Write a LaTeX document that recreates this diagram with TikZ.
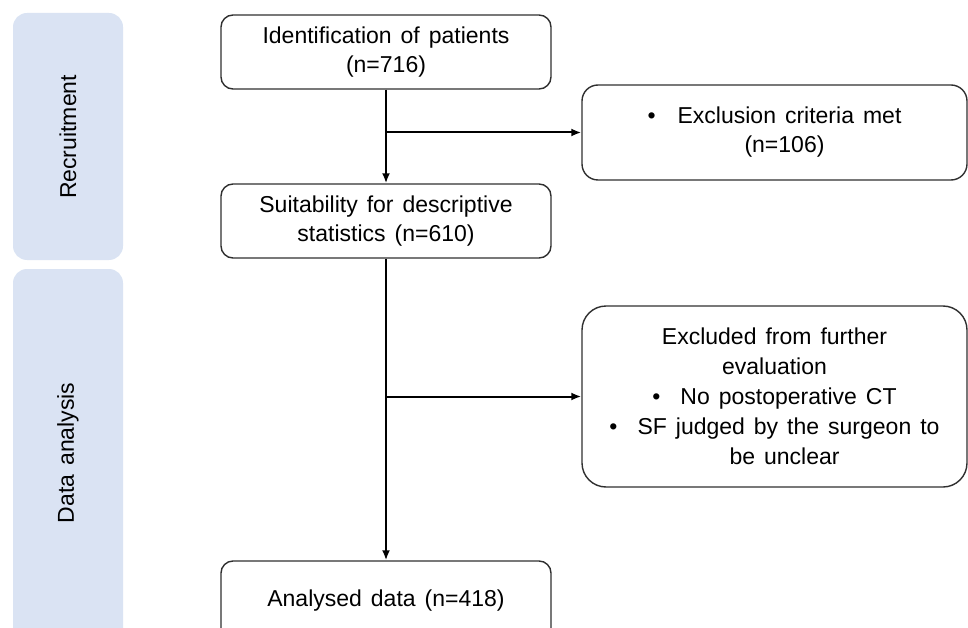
\documentclass[tikz,border=0pt]{standalone}
\usepackage{fontspec}
\setmainfont{Liberation Sans}
\usepackage{tikz}
\usetikzlibrary{positioning,arrows.meta,calc}
\usepackage{xcolor}
\definecolor{band}{HTML}{DAE3F3}
\definecolor{frame}{HTML}{2F2F2F}
\newcommand{\flowfont}[1]{\fontsize{23}{#1}\selectfont\spaceskip=9pt plus 2pt minus 1pt\relax}

\begin{document}
\begin{tikzpicture}[x=1pt, y=1pt, >={Latex[length=10pt,width=8pt]},
    font=\flowfont{29},
    stage/.style={draw=frame, line width=1.4pt, rounded corners=12pt, align=center,
      minimum width=330pt, minimum height=74pt, inner sep=0pt},
    sidebox/.style={draw=frame, line width=1.4pt, rounded corners=16pt, align=center,
      minimum width=385pt, inner sep=0pt},
    flow/.style={->, line width=2pt, black}]
        \clip (0,0) rectangle (968,-628);
        % phase bands on the left
        \fill[band, rounded corners=14pt] (13,-13) rectangle (123,-260);
        \fill[band, rounded corners=14pt] (13,-269) rectangle (123,-660);
        \node[rotate=90] (recruit) at (68,-137) {Recruitment};
        \node[rotate=90] (analysis) at (68,-453) {Data analysis};
        % main flow
        \node[stage] (ident) at (386,-52) {Identification of patients\\(n=716)};
        \node[stage] (suit) at (386,-221) {Suitability for descriptive\\statistics (n=610)};
        \node[stage, minimum height=80pt] (final) at (386,-601) {Analysed data (n=418)};
        % exclusions
        \node[sidebox, minimum height=95pt] (excl1) at (774.5,-132.5)
              {•\hspace{22pt}Exclusion criteria met\\\hspace{20pt}(n=106)};
        \node[sidebox, minimum height=181pt, rounded corners=24pt, font=\flowfont{30}]
              (excl2) at (774.5,-396.5)
              {Excluded from further\\evaluation\\•\hspace{20pt}No postoperative CT\\
               •\hspace{20pt}SF judged by the surgeon to\\\hspace{20pt}be unclear};
        \coordinate (split1) at (ident.south |- excl1.west);
        \coordinate (split2) at (suit.south |- excl2.west);
        \draw[flow] (ident) -- (suit);
        \draw[flow] (suit) -- (final);
        \draw[flow] (split1) -- (excl1);
        \draw[flow] (split2) -- (excl2);
      \end{tikzpicture}
\end{document}
